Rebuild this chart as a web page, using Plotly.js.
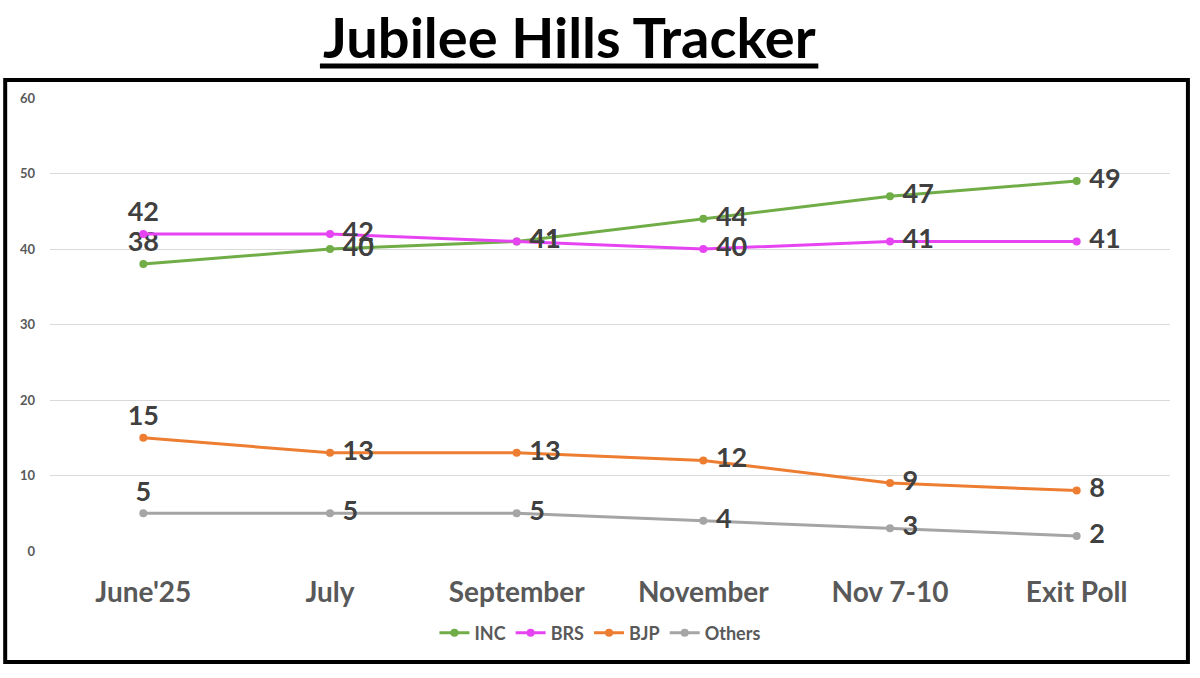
<!DOCTYPE html>
<html>
<head>
<meta charset="utf-8">
<script src="https://cdn.plot.ly/plotly-3.0.1.min.js"></script>
<style>
  html, body { margin: 0; padding: 0; background: #fff; }
  #chart { width: 1200px; height: 678px; }
</style>
</head>
<body>
<div id="chart"></div>
<script>
var months = ["June'25", "July", "September", "November", "Nov 7-10", "Exit Poll"];
var inc = [38, 40, 41, 44, 47, 49];
var brs = [42, 42, 41, 40, 41, 41];
var bjp = [15, 13, 13, 12, 9, 8];
var others = [5, 5, 5, 4, 3, 2];

var FONT = "Lato, 'Open Sans', sans-serif";

// first point labelled above, the rest to the right
var labelPos = ["top center", "middle right", "middle right", "middle right", "middle right", "middle right"];

function series(name, values, color) {
    return {
        type: "scatter",
        mode: "lines+markers+text",
        name: name,
        x: months,
        y: values,
        // non-breaking space pushes right-hand labels off the marker a bit
        text: values.map(function (v, i) { return i === 0 ? String(v) : "\u00a0" + v; }),
        textposition: labelPos,
        textfont: { family: FONT, size: 27, color: "#404040", weight: 700 },
        line: { color: color, width: 3 },
        marker: { color: color, size: 8 },
        cliponaxis: false,
        hoverinfo: "x+y+name"
    };
}

var traces = [
    series("INC", inc, "#70AD47"),
    series("BRS", brs, "#E644F2"),
    series("BJP", bjp, "#ED7D31"),
    series("Others", others, "#A5A5A5")
];

var layout = {
    width: 1200,
    height: 678,
    margin: { l: 50, r: 30, t: 98, b: 127 },
    paper_bgcolor: "#ffffff",
    plot_bgcolor: "#ffffff",
    font: { family: FONT, color: "#595959" },
    showlegend: true,
    legend: {
        orientation: "h",
        x: 0.491, xanchor: "center",
        y: -0.181, yanchor: "middle",
        font: { family: FONT, size: 18, color: "#595959", weight: 700 },
        itemwidth: 30,
        tracegroupgap: 0
    },
    xaxis: {
        type: "category",
        range: [-0.5, 5.5],
        showgrid: false,
        zeroline: false,
        showline: false,
        ticks: "",
        ticklabelstandoff: 22,
        tickfont: { family: FONT, size: 28, color: "#595959", weight: 700 },
        fixedrange: true
    },
    yaxis: {
        range: [0, 60],
        dtick: 10,
        showgrid: true,
        gridcolor: "#d9d9d9",
        gridwidth: 1,
        zeroline: false,
        showline: false,
        ticks: "",
        ticklabelstandoff: 14,
        tickfont: { family: FONT, size: 13, color: "#595959", weight: 700 },
        fixedrange: true
    },
    annotations: [{
        xref: "paper", yref: "paper",
        x: 0.4634, y: 1.1347,
        xanchor: "center", yanchor: "middle",
        text: "<b>Jubilee Hills Tracker</b>",
        showarrow: false,
        font: { family: FONT, size: 56, color: "#000000" }
    }],
    shapes: [
        // outer frame
        {
            type: "rect", xref: "paper", yref: "paper",
            x0: -0.040, x1: 1.016, y0: -0.245, y1: 1.0397,
            line: { color: "#000000", width: 4 },
            fillcolor: "rgba(0,0,0,0)"
        },
        // title underline
        {
            type: "line", xref: "paper", yref: "paper",
            x0: 0.241, x1: 0.686, y0: 1.0706, y1: 1.0706,
            line: { color: "#000000", width: 5 }
        }
    ]
};

Plotly.newPlot("chart", traces, layout, { displayModeBar: false });
</script>
</body>
</html>
